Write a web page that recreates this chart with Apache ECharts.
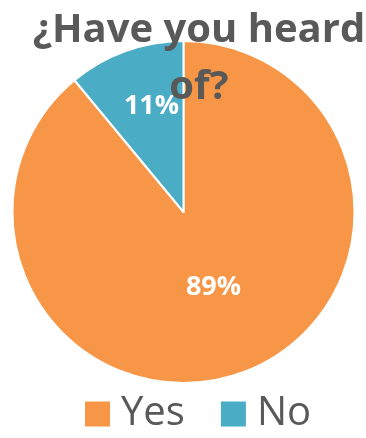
<!DOCTYPE html>
<html>
<head>
<meta charset="utf-8">
<script src="https://cdn.jsdelivr.net/npm/echarts@6/dist/echarts.min.js"></script>
<style>
  html, body { margin: 0; padding: 0; background: #fff; }
  #chart { width: 366px; height: 438px; }
</style>
</head>
<body>
<div id="chart"></div>
<script>
// Survey answers and their shares (percent)
const answers = ['Yes', 'No'];
const shares = [89, 11];
const sliceColors = ['#F79646', '#4BACC6'];
const titleText = '¿Have you heard\nof?';

// Offsets nudging each percentage label along the slice
const labelShift = [[0, -8], [-2, -22]];

const chart = echarts.init(document.getElementById('chart'), null, { renderer: 'canvas' });

chart.setOption({
  animation: false,
  title: {
    text: titleText,
    left: 194,
    top: -3,
    textAlign: 'center',
    z: 10,
    textStyle: {
      fontFamily: 'Open Sans',
      fontWeight: 'bold',
      fontSize: 40,
      lineHeight: 57,
      color: '#595959'
    }
  },
  legend: {
    data: answers,
    left: 78,
    top: 387,
    icon: 'rect',
    itemWidth: 27,
    itemHeight: 27,
    itemGap: 34,
    textStyle: {
      fontFamily: 'Open Sans',
      fontSize: 40,
      lineHeight: 44,
      color: '#595959',
      padding: [0, 0, 0, 5]
    }
  },
  series: [{
    type: 'pie',
    center: [183.5, 212],
    radius: 171,
    startAngle: 90,
    clockwise: true,
    z: 1,
    itemStyle: { borderColor: '#ffffff', borderWidth: 2 },
    label: {
      show: true,
      position: 'inside',
      formatter: '{d}%',
      fontFamily: 'Open Sans',
      fontWeight: 'bold',
      fontSize: 27,
      color: '#ffffff'
    },
    labelLayout: function (p) {
      const s = labelShift[p.dataIndex];
      return { dx: s[0], dy: s[1] };
    },
    data: answers.map((name, i) => ({
      name: name,
      value: shares[i],
      itemStyle: { color: sliceColors[i] }
    }))
  }]
});
</script>
</body>
</html>
